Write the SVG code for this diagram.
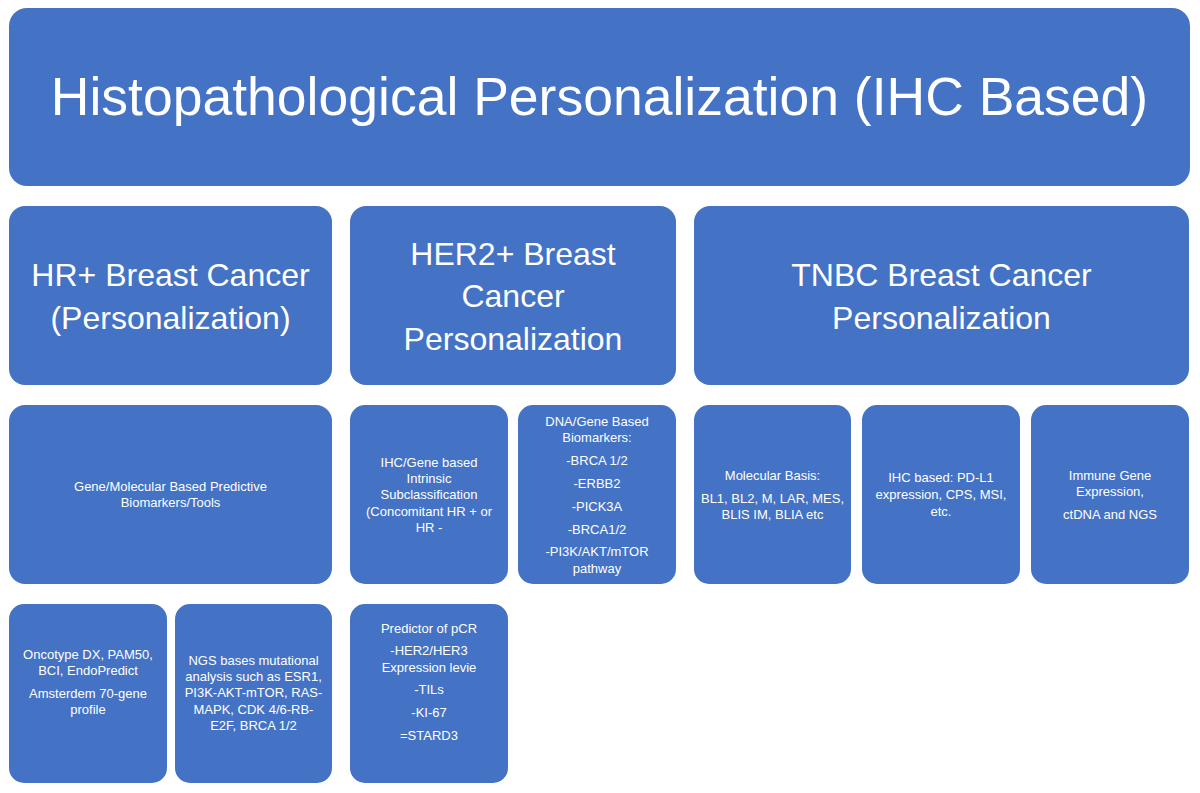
<svg xmlns="http://www.w3.org/2000/svg" width="1200" height="793" viewBox="0 0 1200 793">
<style>
  .box { fill: #4472C4; }
  text { fill: #FFFFFF; font-family: "Liberation Sans", Arial, sans-serif; text-anchor: middle; }
  .t0 { font-size: 53.5px; }
  .t1 { font-size: 32px; }
  .t2 { font-size: 13px; }
</style>
<rect width="1200" height="793" fill="#FFFFFF"/>
<g id="connectors"></g>
<g id="title">
  <rect class="box" x="9" y="8" width="1181" height="178" rx="18"/>
  <text class="t0" x="599.5" y="114.5">Histopathological Personalization (IHC Based)</text>
</g>
<g id="hr">
  <rect class="box" x="9" y="206" width="323" height="179" rx="16"/>
  <text class="t1" x="170.5" y="286">HR+ Breast Cancer</text>
  <text class="t1" x="170.5" y="328.5">(Personalization)</text>
</g>
<g id="her2">
  <rect class="box" x="350" y="206" width="326" height="179" rx="16"/>
  <text class="t1" x="513" y="264.5">HER2+ Breast</text>
  <text class="t1" x="513" y="307">Cancer</text>
  <text class="t1" x="513" y="349.5">Personalization</text>
</g>
<g id="tnbc">
  <rect class="box" x="694" y="206" width="495" height="179" rx="16"/>
  <text class="t1" x="941.5" y="286">TNBC Breast Cancer</text>
  <text class="t1" x="941.5" y="328.5">Personalization</text>
</g>
<g id="gene-molecular">
  <rect class="box" x="9" y="405" width="323" height="179" rx="16"/>
  <text class="t2" x="170.5" y="491">Gene/Molecular Based Predictive</text>
  <text class="t2" x="170.5" y="507">Biomarkers/Tools</text>
</g>
<g id="ihc-gene">
  <rect class="box" x="350" y="405" width="158" height="179" rx="15"/>
  <text class="t2" x="429" y="466.5">IHC/Gene based</text>
  <text class="t2" x="429" y="482.5">Intrinsic</text>
  <text class="t2" x="429" y="498.5">Subclassification</text>
  <text class="t2" x="429" y="515.5">(Concomitant HR + or</text>
  <text class="t2" x="429" y="531.5">HR -</text>
</g>
<g id="dna-gene">
  <rect class="box" x="518" y="405" width="158" height="179" rx="15"/>
  <text class="t2" x="597" y="426">DNA/Gene Based</text>
  <text class="t2" x="597" y="442">Biomarkers:</text>
  <text class="t2" x="597" y="465">-BRCA 1/2</text>
  <text class="t2" x="597" y="487.5">-ERBB2</text>
  <text class="t2" x="597" y="510.5">-PICK3A</text>
  <text class="t2" x="597" y="533.5">-BRCA1/2</text>
  <text class="t2" x="597" y="556">-PI3K/AKT/mTOR</text>
  <text class="t2" x="597" y="572.5">pathway</text>
</g>
<g id="molecular-basis">
  <rect class="box" x="694" y="405" width="157" height="179" rx="15"/>
  <text class="t2" x="772.5" y="480">Molecular Basis:</text>
  <text class="t2" x="772.5" y="502.5">BL1, BL2, M, LAR, MES,</text>
  <text class="t2" x="772.5" y="518.5">BLIS IM, BLIA etc</text>
</g>
<g id="ihc-based">
  <rect class="box" x="862" y="405" width="158" height="179" rx="15"/>
  <text class="t2" x="941" y="482">IHC based: PD-L1</text>
  <text class="t2" x="941" y="499">expression, CPS, MSI,</text>
  <text class="t2" x="941" y="516">etc.</text>
</g>
<g id="immune">
  <rect class="box" x="1031" y="405" width="158" height="179" rx="15"/>
  <text class="t2" x="1110" y="480">Immune Gene</text>
  <text class="t2" x="1110" y="496">Expression,</text>
  <text class="t2" x="1110" y="518.5">ctDNA and NGS</text>
</g>
<g id="oncotype">
  <rect class="box" x="9" y="604" width="158" height="179" rx="15"/>
  <text class="t2" x="88" y="658.5">Oncotype DX, PAM50,</text>
  <text class="t2" x="88" y="674.5">BCI, EndoPredict</text>
  <text class="t2" x="88" y="697.5">Amsterdem 70-gene</text>
  <text class="t2" x="88" y="714">profile</text>
</g>
<g id="ngs">
  <rect class="box" x="175" y="604" width="157" height="179" rx="15"/>
  <text class="t2" x="253.5" y="664.5">NGS bases mutational</text>
  <text class="t2" x="253.5" y="681">analysis such as ESR1,</text>
  <text class="t2" x="253.5" y="697">PI3K-AKT-mTOR, RAS-</text>
  <text class="t2" x="253.5" y="713.5">MAPK, CDK 4/6-RB-</text>
  <text class="t2" x="253.5" y="730">E2F, BRCA 1/2</text>
</g>
<g id="predictor">
  <rect class="box" x="350" y="604" width="158" height="179" rx="15"/>
  <text class="t2" x="429" y="632.5">Predictor of pCR</text>
  <text class="t2" x="429" y="655">-HER2/HER3</text>
  <text class="t2" x="429" y="671.5">Expression levie</text>
  <text class="t2" x="429" y="694">-TILs</text>
  <text class="t2" x="429" y="717">-KI-67</text>
  <text class="t2" x="429" y="740">=STARD3</text>
</g>
</svg>
